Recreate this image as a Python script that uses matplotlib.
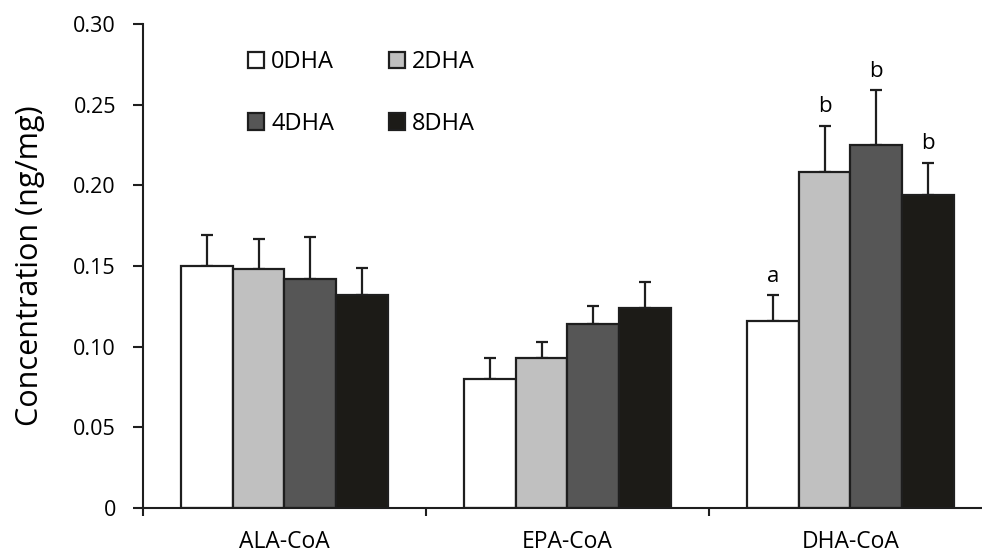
import numpy as np
import matplotlib
matplotlib.use("Agg")
import matplotlib.pyplot as plt

plt.rcParams['font.family'] = ['Open Sans', 'DejaVu Sans']

categories = ["ALA-CoA", "EPA-CoA", "DHA-CoA"]
groups = ["0DHA", "2DHA", "4DHA", "8DHA"]
conc_0 = [0.150, 0.080, 0.116]
conc_2 = [0.148, 0.093, 0.208]
conc_4 = [0.142, 0.114, 0.225]
conc_8 = [0.132, 0.124, 0.194]
err_0 = [0.019, 0.013, 0.016]
err_2 = [0.019, 0.010, 0.029]
err_4 = [0.026, 0.011, 0.034]
err_8 = [0.017, 0.016, 0.020]
dha_letters = ["a", "b", "b", "b"]

colors = ["#ffffff", "#c0c0c0", "#565656", "#1c1b17"]
edge = "#1e1e1e"

fig = plt.figure(figsize=(9.82, 5.57), dpi=100)
ax = fig.add_axes([143 / 982, 49 / 557, 1 - 143 / 982, 484 / 557])

x = np.arange(len(categories))
w = 0.183
series = [conc_0, conc_2, conc_4, conc_8]
errs = [err_0, err_2, err_4, err_8]
handles = []
for i, (vals, e) in enumerate(zip(series, errs)):
    pos = x + (i - 1.5) * w
    b = ax.bar(pos, vals, w, color=colors[i], edgecolor=edge, linewidth=1.6,
               label=groups[i], zorder=2)
    handles.append(b)
    ax.errorbar(pos, vals, yerr=[np.zeros(len(vals)), e], fmt="none",
                ecolor=edge, elinewidth=1.6, capsize=4.5, capthick=1.6, zorder=1)
    # significance letters above the DHA-CoA bars
    ax.annotate(dha_letters[i], (pos[2], vals[2] + e[2]), xytext=(0, 6),
                textcoords="offset points", ha="center", va="bottom", fontsize=16)

ax.set_xlim(-0.5, 2.465)
ax.set_ylim(0, 0.30)
ax.set_yticks([0, 0.05, 0.10, 0.15, 0.20, 0.25, 0.30])
ax.set_yticklabels(["0", "0.05", "0.10", "0.15", "0.20", "0.25", "0.30"], fontsize=15.5)
ax.set_xticks([-0.5, 0.5, 1.5])
ax.set_xticklabels([])
ax.set_xticks(x, minor=True)
ax.set_xticklabels(categories, minor=True, fontsize=16.5)
ax.tick_params(axis="x", which="minor", length=0, pad=16)
ax.tick_params(axis="x", which="major", direction="out", length=6, width=1.5, color=edge)
ax.tick_params(axis="y", direction="out", length=7.5, width=1.5, color=edge, pad=12)
ax.spines["top"].set_visible(False)
ax.spines["right"].set_visible(False)
for s in ["left", "bottom"]:
    ax.spines[s].set_linewidth(1.5)
    ax.spines[s].set_color(edge)
ax.set_ylabel("Concentration (ng/mg)", fontsize=22, labelpad=20)

# legend fills columns first, so order as 0,4 / 2,8 to get rows 0,2 and 4,8
order = [0, 2, 1, 3]
ax.legend([handles[k] for k in order], [groups[k] for k in order], ncol=2,
          frameon=False, fontsize=17, loc="upper left",
          bbox_to_anchor=(0.1, 0.99), handlelength=0.68, handleheight=0.68,
          handletextpad=0.3, columnspacing=2.3, labelspacing=1.6)

fig.savefig("out.png", dpi=100)
